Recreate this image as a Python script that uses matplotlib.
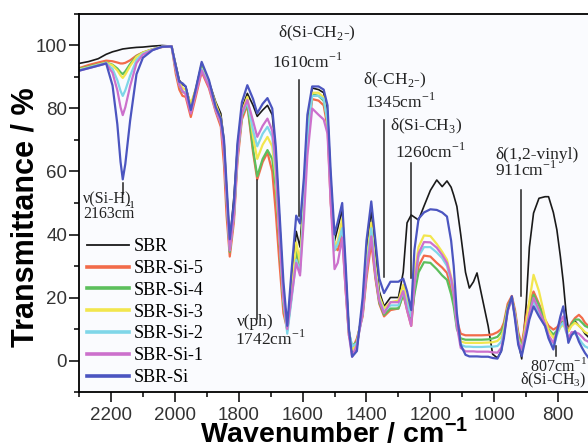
import matplotlib
matplotlib.use("Agg")
import matplotlib.pyplot as plt
from matplotlib.ticker import MultipleLocator

wavenumber = [2300, 2270, 2240, 2215, 2195, 2180, 2170, 2163, 2155, 2140, 2120, 2100, 2070, 2040, 2010,
              1997, 1986, 1976, 1966, 1950, 1935, 1916, 1893, 1872, 1856, 1846, 1838, 1828, 1815, 1804,
              1790, 1773, 1755, 1742, 1725, 1710, 1695, 1684, 1674, 1660, 1648, 1635, 1620, 1608, 1596,
              1585, 1570, 1550, 1534, 1522, 1512, 1500, 1490, 1476, 1465, 1455, 1445, 1430, 1412, 1400,
              1385, 1372, 1360, 1345, 1325, 1300, 1285, 1273, 1260, 1250, 1237, 1220, 1200, 1180, 1163,
              1148, 1135, 1127, 1117, 1105, 1090, 1078, 1065, 1054, 1040, 1019, 1005, 990, 978, 970,
              958, 945, 935, 925, 914, 900, 890, 877, 860, 841, 830, 815, 804, 793, 784,
              775, 768, 758, 747, 735, 725, 716, 706]

sbr = [94.3, 94.9, 95.8, 97.2, 98.0, 98.4, 98.7, 98.9, 99.0, 99.2, 99.4, 99.5, 99.8, 100.0, 99.8,
       94.0, 89.0, 87.6, 87.0, 81.0, 86.0, 94.3, 88.5, 82.1, 78.4, 70.0, 55.0, 37.5, 52.0, 68.0,
       80.0, 84.8, 81.0, 77.5, 79.5, 81.0, 78.0, 66.0, 48.0, 22.0, 10.5, 24.0, 41.0, 36.0, 55.0,
       76.0, 86.5, 86.0, 85.0, 79.0, 58.0, 38.0, 42.0, 48.0, 28.0, 10.0, 2.0, 4.0, 18.0, 35.0,
       47.8, 34.0, 22.0, 17.2, 20.0, 20.0, 28.0, 43.7, 46.2, 45.5, 44.6, 49.0, 54.0, 57.3, 55.2,
       57.0, 55.0, 52.5, 48.9, 40.0, 28.0, 23.0, 25.0, 27.8, 21.0, 10.9, 2.0, 0.8, 3.0, 8.0,
       16.0, 19.5, 14.0, 6.0, 0.5, 18.0, 36.0, 46.8, 51.5, 52.0, 52.0, 47.0, 41.5, 33.0, 25.0,
       15.0, 10.0, 11.5, 12.5, 11.0, 10.0, 8.5, 7.5]

sbr_si5 = [92.8, 93.8, 94.6, 95.2, 95.0, 94.6, 94.3, 94.3, 94.5, 95.3, 96.8, 97.8, 98.8, 99.5, 99.8,
           91.0, 86.0, 84.0, 83.7, 77.3, 83.5, 91.6, 86.4, 78.9, 74.2, 62.0, 46.0, 33.0, 44.0, 63.0,
           76.5, 81.1, 66.0, 57.5, 63.0, 66.0, 60.0, 47.0, 33.0, 15.0, 9.8, 22.0, 34.0, 30.0, 50.0,
           70.0, 83.0, 82.5, 81.0, 74.0, 50.0, 36.0, 35.0, 40.0, 22.0, 8.0, 3.5, 7.0, 14.0, 26.0,
           37.4, 26.0, 18.0, 14.0, 16.0, 16.5, 21.0, 16.0, 11.0, 22.0, 30.0, 33.3, 33.0, 31.0, 29.5,
           27.8, 23.0, 19.3, 12.8, 8.5, 8.0, 8.0, 8.0, 8.0, 8.0, 8.1, 8.3, 9.0, 10.0, 12.0,
           18.0, 20.5, 16.0, 9.0, 5.0, 14.0, 18.5, 21.9, 18.0, 13.0, 11.0, 9.8, 10.5, 12.0, 12.4,
           11.0, 9.8, 12.0, 13.5, 14.5, 13.5, 12.0, 11.0]

sbr_si4 = [92.6, 93.3, 94.0, 94.6, 93.9, 92.7, 91.5, 90.9, 91.8, 94.1, 96.6, 97.7, 98.8, 99.6, 99.7,
           92.5, 87.5, 85.3, 85.0, 80.0, 85.5, 93.7, 87.5, 80.0, 76.0, 67.0, 51.0, 34.5, 46.0, 65.0,
           77.5, 81.8, 67.0, 58.5, 64.0, 66.8, 64.0, 55.0, 40.0, 18.0, 9.5, 20.0, 35.0, 30.0, 50.0,
           72.0, 84.5, 84.0, 82.5, 76.0, 54.0, 35.0, 37.0, 43.0, 24.0, 9.0, 4.5, 6.0, 15.0, 28.0,
           41.0, 27.0, 18.5, 14.5, 16.5, 16.5, 21.0, 17.0, 13.0, 21.0, 28.0, 31.2, 31.0, 29.0, 27.0,
           25.6, 21.0, 17.2, 10.0, 7.0, 6.6, 6.6, 6.6, 6.6, 6.6, 6.7, 7.0, 7.5, 9.0, 11.0,
           17.0, 20.0, 15.0, 8.0, 4.0, 12.0, 16.5, 20.9, 17.5, 12.5, 10.0, 8.2, 9.5, 11.5, 12.4,
           10.5, 9.3, 11.5, 13.0, 13.0, 12.0, 11.0, 10.5]

sbr_si3 = [92.4, 93.1, 93.9, 94.5, 93.7, 92.1, 90.5, 89.7, 90.8, 93.5, 96.4, 97.7, 98.8, 99.6, 99.7,
           93.0, 88.0, 86.5, 86.0, 81.5, 86.0, 92.7, 88.0, 81.5, 77.0, 68.0, 53.0, 36.5, 47.0, 66.0,
           79.0, 83.7, 71.0, 64.0, 68.5, 71.0, 68.0, 58.0, 42.0, 20.0, 10.0, 21.0, 37.5, 31.0, 50.0,
           72.0, 85.0, 85.0, 83.5, 76.0, 54.0, 36.0, 38.0, 45.0, 24.0, 9.0, 3.5, 5.0, 16.0, 32.0,
           43.7, 30.0, 20.5, 16.5, 18.5, 19.0, 24.0, 19.0, 15.0, 27.0, 36.0, 39.7, 39.5, 37.0, 34.5,
           32.0, 26.5, 22.5, 12.0, 6.0, 5.6, 5.6, 5.6, 5.6, 5.6, 5.7, 5.8, 6.2, 7.5, 10.0,
           16.5, 19.8, 14.5, 7.0, 3.5, 12.0, 19.0, 27.2, 22.0, 13.5, 9.5, 7.2, 8.5, 10.5, 11.4,
           10.0, 9.3, 11.0, 12.0, 11.0, 10.0, 9.0, 8.5]

sbr_si2 = [92.2, 93.0, 93.8, 94.4, 92.6, 89.0, 85.6, 84.0, 85.8, 90.4, 95.4, 97.4, 98.7, 99.6, 99.7,
           92.5, 87.5, 85.5, 85.0, 78.9, 85.0, 92.5, 87.5, 79.5, 75.5, 67.0, 52.0, 35.0, 46.0, 65.0,
           78.0, 82.1, 73.0, 68.0, 72.0, 74.2, 71.0, 60.0, 42.0, 19.0, 8.5, 19.0, 32.0, 28.0, 49.0,
           71.0, 84.0, 84.0, 83.0, 76.0, 54.0, 35.0, 37.0, 42.0, 24.0, 9.0, 4.5, 5.5, 15.0, 29.0,
           42.0, 28.0, 19.5, 15.5, 17.5, 17.5, 22.0, 18.0, 14.0, 24.0, 33.0, 36.0, 36.0, 34.3, 32.5,
           30.0, 25.0, 21.0, 11.5, 5.0, 4.4, 4.4, 4.3, 4.3, 4.3, 4.4, 4.4, 4.6, 6.0, 9.0,
           16.0, 19.5, 14.0, 6.5, 3.5, 10.0, 14.5, 18.8, 15.0, 11.0, 7.5, 4.0, 8.0, 11.0, 12.0,
           9.0, 7.0, 8.5, 8.5, 7.0, 5.5, 4.5, 4.0]

sbr_si1 = [92.0, 92.8, 93.6, 94.3, 91.3, 85.8, 80.4, 77.9, 80.4, 87.1, 94.4, 97.1, 98.6, 99.6, 99.7,
           92.5, 87.5, 85.5, 84.5, 78.4, 84.5, 92.1, 87.0, 79.5, 75.5, 66.0, 52.0, 35.0, 46.0, 65.0,
           78.5, 82.7, 76.0, 71.0, 74.5, 76.8, 73.0, 62.0, 42.0, 20.0, 10.0, 20.0, 31.0, 27.0, 45.0,
           65.0, 80.0, 78.0, 76.5, 72.0, 50.0, 29.0, 31.0, 39.0, 22.0, 8.0, 1.2, 5.0, 15.0, 28.0,
           39.4, 27.0, 19.0, 15.0, 18.5, 18.5, 22.0, 16.0, 11.0, 24.0, 34.0, 37.6, 37.5, 35.8, 33.5,
           31.0, 26.0, 21.5, 11.0, 4.0, 2.9, 2.9, 2.9, 2.8, 2.8, 2.8, 2.6, 2.5, 4.0, 8.0,
           15.5, 19.8, 14.0, 6.0, 3.5, 10.0, 15.0, 19.9, 16.0, 11.5, 8.0, 5.6, 9.0, 12.5, 14.0,
           9.5, 7.0, 9.0, 9.0, 8.5, 7.5, 6.5, 6.0]

sbr_si = [92.0, 92.8, 93.6, 94.3, 87.3, 75.0, 63.1, 57.5, 62.4, 76.1, 90.9, 96.1, 98.5, 99.6, 99.7,
          93.5, 88.5, 88.0, 87.0, 79.5, 86.0, 94.8, 89.0, 80.5, 76.8, 70.0, 56.0, 38.5, 50.0, 69.0,
          82.0, 87.4, 83.0, 78.5, 81.5, 83.3, 80.0, 68.0, 50.0, 25.0, 11.0, 28.0, 46.0, 43.5, 58.0,
          78.0, 87.0, 87.0, 86.0, 81.0, 60.0, 40.0, 44.0, 50.0, 30.0, 10.0, 1.2, 3.0, 20.0, 38.0,
          50.5, 38.0, 26.0, 21.4, 25.0, 25.0, 26.0, 22.0, 16.0, 35.0, 45.0, 47.0, 48.0, 47.8, 47.0,
          45.7, 38.0, 30.0, 15.0, 5.0, 1.8, 1.3, 1.3, 1.3, 1.2, 1.2, 0.8, 0.6, 3.0, 7.0,
          16.0, 20.4, 13.0, 5.0, 1.4, 8.0, 13.0, 17.2, 14.0, 10.9, 7.0, 3.5, 9.0, 14.0, 17.2,
          11.0, 5.6, 8.0, 9.3, 6.0, 4.0, 2.4, 1.0]

series_names = ["SBR", "SBR-Si-5", "SBR-Si-4", "SBR-Si-3", "SBR-Si-2", "SBR-Si-1", "SBR-Si"]
series_values = [sbr, sbr_si5, sbr_si4, sbr_si3, sbr_si2, sbr_si1, sbr_si]
series_colors = ["#1a1a1a", "#f26b4a", "#5cbf5c", "#f2e64e", "#7fd6e8", "#cc70cc", "#4b55c0"]
series_widths = [1.2, 1.6, 1.6, 1.6, 1.6, 1.6, 1.6]

x_ticks = [2200, 2000, 1800, 1600, 1400, 1200, 1000, 800]
y_ticks = [0, 20, 40, 60, 80, 100]

fig = plt.figure(figsize=(5.88, 4.48), dpi=100)
ax = fig.add_axes([79/588, 1-392/448, (592-79)/588, (392-14)/448])
ax.set_facecolor("#fafbfe")

for name, vals, c, lw in zip(series_names, series_values, series_colors, series_widths):
    ax.plot(wavenumber, vals, color=c, lw=lw, label=name)

ax.set_xlim(2300, 694)
ax.set_ylim(-10, 110)
ax.set_xticks(x_ticks)
ax.set_yticks(y_ticks)
ax.xaxis.set_minor_locator(MultipleLocator(100))
ax.yaxis.set_minor_locator(MultipleLocator(10))
ax.tick_params(which="major", direction="out", length=7, width=1.1, labelsize=13.5,
               labelcolor="#333333", labelfontfamily="Liberation Sans")
ax.tick_params(which="minor", direction="out", length=3.6, width=1.1)
ax.tick_params(axis="x", which="major", pad=3.5)
ax.tick_params(axis="y", which="major", pad=1.5)
for s in ["left", "bottom", "top"]:
    ax.spines[s].set_linewidth(1.3)
ax.spines["right"].set_visible(False)

serif = "Liberation Serif"
sans = "Liberation Sans"
fig.text(26/588, 1-217/448, "Transmittance / %", rotation=90, ha="center", va="center",
         fontsize=22, fontweight="bold", family=sans)
fig.text(334/588, 1-442/448, "Wavenumber / cm$^{\\mathregular{-1}}$", ha="center", va="baseline",
         fontsize=20.5, fontweight="bold", family=sans)

ann = dict(fontsize=12.5, family=serif, color="#222222")
ann_small = dict(fontsize=11.5, family=serif, color="#222222")


def vline(x, y0, y1):
    ax.plot([x, x], [y0, y1], color="#222222", lw=1.1)


ax.text(2287, 51.3, "ν(Si-H)", ha="left", va="center", **ann_small)
ax.text(2287, 46.4, "2163cm", ha="left", va="center", **ann_small)
ax.text(2151, 49.3, "-1", ha="left", va="center", fontsize=7.5, family=serif)
vline(2161, 56.5, 52.8)

ax.text(1677, 104.0, "δ(Si-CH$_{\\mathregular{2}}$-)", ha="left", va="center", **ann)
ax.text(1696, 94.8, "1610cm$^{\\mathregular{-1}}$", ha="left", va="center", **ann)
vline(1611, 89.0, 46.0)

ax.text(1411, 89.0, "δ(-CH$_{\\mathregular{2}}$-)", ha="left", va="center", **ann)
ax.text(1405, 82.2, "1345cm$^{\\mathregular{-1}}$", ha="left", va="center", **ann)
vline(1346, 76.3, 26.6)

ax.text(1326, 74.4, "δ(Si-CH$_{\\mathregular{3}}$)", ha="left", va="center", **ann)
ax.text(1311, 66.3, "1260cm$^{\\mathregular{-1}}$", ha="left", va="center", **ann)
vline(1261, 62.7, 26.3)

ax.text(998, 65.2, "δ(1,2-vinyl)", ha="left", va="center", **ann)
ax.text(998, 60.5, "911cm$^{\\mathregular{-1}}$", ha="left", va="center", **ann)
vline(917, 54.1, 20.4)

ax.text(1806, 12.1, "ν(ph)", ha="left", va="center", **ann)
ax.text(1811, 6.8, "1742cm$^{\\mathregular{-1}}$", ha="left", va="center", **ann)
vline(1743, 57.3, 13.3)

ax.text(888, -1.6, "807cm$^{\\mathregular{-1}}$", ha="left", va="center", **ann_small)
ax.text(918, -6.4, "δ(Si-CH$_{\\mathregular{3}}$)", ha="left", va="center", **ann_small)
vline(807, 4.7, 1.3)

leg = ax.legend(loc="upper left", bbox_to_anchor=(87/588, 1-238/448), bbox_transform=fig.transFigure,
                frameon=False, prop={"family": serif, "size": 13}, handlelength=2.3,
                handletextpad=0.3, labelspacing=0.27, borderpad=0, borderaxespad=0)
for h, lw in zip(leg.legend_handles, [1.3, 2.6, 2.6, 2.6, 2.6, 2.6, 2.6]):
    h.set_linewidth(lw)

fig.savefig("out.png", dpi=100)
